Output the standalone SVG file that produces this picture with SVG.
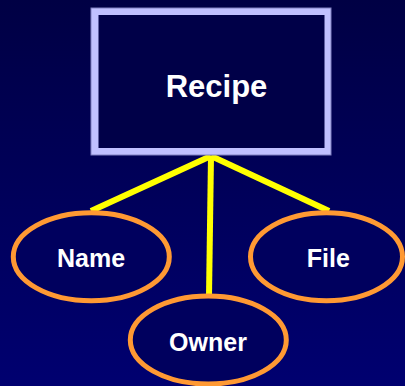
<svg xmlns="http://www.w3.org/2000/svg" width="405" height="386" viewBox="0 0 405 386">
  <defs>
    <linearGradient id="bg" x1="0" y1="0" x2="0" y2="1">
      <stop offset="0" stop-color="#000044"/>
      <stop offset="1" stop-color="#000070"/>
    </linearGradient>
    <style>
      .label { font-family: "Liberation Sans", Arial, sans-serif; font-weight: bold; fill: #ffffff; text-anchor: middle; }
      .attr { fill: #00005e; stroke: #ff9933; stroke-width: 5; }
      .link { stroke: #ffff00; stroke-width: 6; fill: none; }
    </style>
  </defs>
  <rect x="0" y="0" width="405" height="386" fill="url(#bg)"/>

  <g id="connectors">
    <line class="link" x1="211" y1="156" x2="91" y2="211"/>
    <line class="link" x1="211" y1="156" x2="209" y2="296"/>
    <line class="link" x1="211" y1="156" x2="329" y2="211"/>
  </g>

  <g id="recipe">
    <rect x="90.5" y="7.5" width="241" height="148" fill="#8080c0"/>
    <rect x="91.5" y="8.5" width="239" height="146" fill="#c0c0ff"/>
    <rect x="98.5" y="15" width="226" height="133" fill="#000048"/>
    <text class="label" x="216.5" y="97" font-size="31">Recipe</text>
  </g>

  <g id="name">
    <ellipse class="attr" cx="91.3" cy="256.7" rx="78" ry="44"/>
    <text class="label" x="91" y="267" font-size="25">Name</text>
  </g>

  <g id="file">
    <ellipse class="attr" cx="326.5" cy="256.7" rx="76" ry="44"/>
    <text class="label" x="328.3" y="267" font-size="25">File</text>
  </g>

  <g id="owner">
    <ellipse class="attr" cx="208.3" cy="340" rx="78" ry="44"/>
    <text class="label" x="208" y="351" font-size="25">Owner</text>
  </g>
</svg>
